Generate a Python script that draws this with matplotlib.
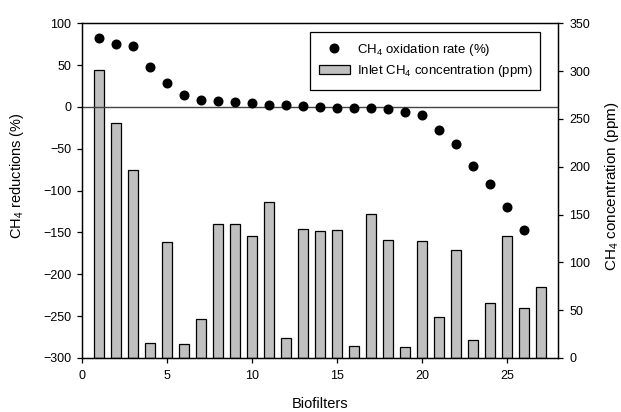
import matplotlib
matplotlib.use("Agg")
import matplotlib.pyplot as plt
from matplotlib.ticker import MultipleLocator
from matplotlib.patches import Rectangle

plt.rcParams['font.family'] = ['Liberation Sans', 'DejaVu Sans']
plt.rcParams['mathtext.default'] = 'regular'

biofilters_pts = list(range(1, 27))
oxidation_rate = [83, 75, 73, 48, 28.5, 14, 8, 7.5, 6, 4.5, 2, 2, 1.5, 0.5,
                  -1.5, -1.5, -1.5, -3, -6, -9, -27, -44, -70, -92, -119, -147]

biofilters_bars = list(range(1, 28))
inlet_conc = [301, 246, 197, 16, 121, 15, 41, 140, 140, 128, 163, 21, 135, 133,
              134, 13, 151, 123, 12, 122, 43, 113, 19, 57, 128, 52, 74]

fig = plt.figure(figsize=(6.21, 4.12), dpi=100)
ax = fig.add_axes([0.1325, 0.1311, 0.899 - 0.1325, 0.9434 - 0.1311])
ax2 = ax.twinx()

bars = ax2.bar(biofilters_bars, inlet_conc, width=0.6, color='#c0c0c0',
               edgecolor='black', linewidth=0.9,
               label='Inlet CH$_4$ concentration (ppm)')
ax.axhline(0, color='#444444', linewidth=1.0, zorder=1)
pts, = ax.plot(biofilters_pts, oxidation_rate, 'o', color='black',
               markersize=6.2, label='CH$_4$ oxidation rate (%)', zorder=3)

ax.set_zorder(ax2.get_zorder() + 1)
ax.patch.set_visible(False)

ax.set_xlim(0, 28)
ax.set_ylim(-300, 100)
ax2.set_ylim(0, 350)
ax.set_xticks([0, 5, 10, 15, 20, 25])
ax.yaxis.set_major_locator(MultipleLocator(50))
ax2.yaxis.set_major_locator(MultipleLocator(50))

for a in (ax, ax2):
    a.tick_params(direction='out', length=3.6, width=0.9, labelsize=9, pad=4.3)
    for s in a.spines.values():
        s.set_linewidth(0.9)
ax.tick_params(axis='x', pad=5)
ax.tick_params(top=False, right=False)

ax.set_xlabel('Biofilters', fontsize=10.5)
ax.xaxis.set_label_coords(0.5, -0.118)
ax.set_ylabel('CH$_4$ reductions (%)', fontsize=10.5)
ax.yaxis.set_label_coords(-0.118, 0.544)
ax2.set_ylabel('CH$_4$ concentration (ppm)', fontsize=11)
ax2.yaxis.set_label_coords(1.094, 0.514)

ax.add_patch(Rectangle((0.4784, 0.8007), 0.9616 - 0.4784, 0.975 - 0.8007,
                       transform=ax.transAxes, facecolor='white',
                       edgecolor='black', linewidth=0.9, zorder=4))
leg = ax.legend([pts, bars], [pts.get_label(), bars.get_label()],
                loc='center left', bbox_to_anchor=(0.497, 0.889), fontsize=9.5,
                frameon=False, handlelength=2.35, handleheight=0.7,
                borderpad=0, labelspacing=0.4, handletextpad=0.53,
                borderaxespad=0)
leg.set_zorder(5)

fig.savefig('out.png', dpi=100)
